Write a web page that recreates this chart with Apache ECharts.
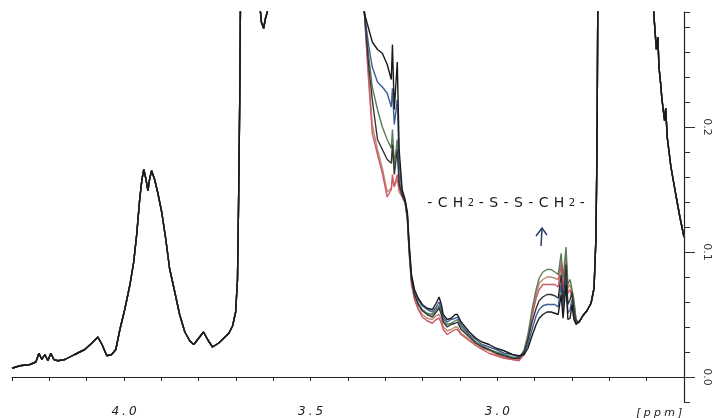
<!DOCTYPE html>
<html>
<head>
<meta charset="utf-8">
<title>NMR overlay</title>
<script src="https://cdn.jsdelivr.net/npm/echarts@6/dist/echarts.min.js"></script>
<style>
  html, body { margin: 0; padding: 0; background: #fff; }
  #main { width: 716px; height: 418px; }
</style>
</head>
<body>
<div id="main"></div>
<script>
// chemical shift (ppm) / intensity
// left part: all spectra coincide
const leftPpm = [4.300, 4.279, 4.252, 4.236, 4.228, 4.220, 4.212, 4.204, 4.196, 4.188, 4.177, 4.158, 4.132, 4.105, 4.083, 4.070, 4.059, 4.046, 4.033, 4.022, 4.011, 3.998, 3.984, 3.974, 3.966, 3.958, 3.952, 3.947, 3.941, 3.936, 3.931, 3.926, 3.918, 3.910, 3.899, 3.888, 3.878, 3.864, 3.851, 3.837, 3.824, 3.813, 3.800, 3.787, 3.776, 3.763, 3.747, 3.733, 3.719, 3.709, 3.701, 3.696, 3.693, 3.690, 3.687, 3.680, 3.660, 3.642, 3.637, 3.632, 3.626, 3.621, 3.616, 3.610, 3.590, 3.500, 3.400, 3.365, 3.356]
const leftVal = [0.007, 0.009, 0.010, 0.012, 0.019, 0.014, 0.018, 0.013, 0.019, 0.014, 0.013, 0.014, 0.018, 0.022, 0.028, 0.032, 0.026, 0.017, 0.018, 0.022, 0.038, 0.054, 0.074, 0.092, 0.114, 0.142, 0.158, 0.166, 0.158, 0.149, 0.159, 0.165, 0.158, 0.148, 0.132, 0.110, 0.087, 0.068, 0.050, 0.036, 0.029, 0.026, 0.031, 0.036, 0.030, 0.024, 0.027, 0.031, 0.035, 0.041, 0.052, 0.078, 0.142, 0.222, 0.340, 0.600, 0.600, 0.400, 0.300, 0.284, 0.279, 0.287, 0.292, 0.350, 0.600, 0.600, 0.600, 0.350, 0.291]

// middle part: spectra differ
const midPpm = [3.345, 3.335, 3.321, 3.308, 3.295, 3.284, 3.281, 3.276, 3.268, 3.263, 3.255, 3.247, 3.241, 3.236, 3.230, 3.222, 3.212, 3.201, 3.188, 3.174, 3.164, 3.156, 3.150, 3.145, 3.134, 3.124, 3.113, 3.107, 3.097, 3.075, 3.057, 3.041, 3.022, 3.003, 2.982, 2.960, 2.942, 2.928, 2.918, 2.907, 2.896, 2.888, 2.878, 2.867, 2.856, 2.846, 2.837, 2.829, 2.824, 2.816, 2.811, 2.805, 2.800, 2.795, 2.789]
const specA = [0.279, 0.268, 0.262, 0.259, 0.250, 0.238, 0.266, 0.214, 0.252, 0.182, 0.150, 0.142, 0.132, 0.106, 0.082, 0.070, 0.063, 0.058, 0.055, 0.054, 0.059, 0.064, 0.058, 0.050, 0.046, 0.047, 0.050, 0.050, 0.044, 0.036, 0.031, 0.028, 0.026, 0.023, 0.021, 0.018, 0.017, 0.018, 0.023, 0.033, 0.042, 0.047, 0.050, 0.052, 0.052, 0.051, 0.050, 0.066, 0.047, 0.074, 0.046, 0.047, 0.058, 0.046, 0.042]
const specB = [0.266, 0.248, 0.236, 0.232, 0.227, 0.216, 0.231, 0.202, 0.222, 0.170, 0.148, 0.141, 0.130, 0.103, 0.080, 0.068, 0.062, 0.057, 0.054, 0.052, 0.056, 0.060, 0.054, 0.048, 0.044, 0.046, 0.047, 0.048, 0.042, 0.034, 0.030, 0.026, 0.024, 0.022, 0.019, 0.018, 0.016, 0.019, 0.026, 0.038, 0.049, 0.054, 0.057, 0.058, 0.058, 0.058, 0.056, 0.074, 0.053, 0.082, 0.051, 0.054, 0.062, 0.049, 0.043]
const specC = [0.258, 0.232, 0.214, 0.200, 0.190, 0.183, 0.198, 0.170, 0.190, 0.158, 0.146, 0.140, 0.129, 0.102, 0.078, 0.066, 0.059, 0.054, 0.051, 0.050, 0.054, 0.057, 0.052, 0.046, 0.042, 0.043, 0.045, 0.046, 0.040, 0.033, 0.028, 0.025, 0.022, 0.020, 0.018, 0.016, 0.015, 0.022, 0.034, 0.054, 0.070, 0.079, 0.084, 0.086, 0.086, 0.084, 0.082, 0.099, 0.079, 0.104, 0.074, 0.078, 0.078, 0.062, 0.046]
const specD = [0.250, 0.222, 0.190, 0.182, 0.174, 0.171, 0.186, 0.162, 0.182, 0.154, 0.145, 0.140, 0.128, 0.101, 0.078, 0.066, 0.058, 0.053, 0.050, 0.048, 0.052, 0.055, 0.050, 0.044, 0.040, 0.042, 0.043, 0.044, 0.038, 0.032, 0.027, 0.024, 0.022, 0.019, 0.017, 0.015, 0.015, 0.020, 0.030, 0.044, 0.055, 0.061, 0.064, 0.066, 0.066, 0.065, 0.063, 0.082, 0.061, 0.090, 0.058, 0.062, 0.068, 0.054, 0.044]
const specE = [0.238, 0.195, 0.178, 0.163, 0.144, 0.150, 0.162, 0.152, 0.162, 0.150, 0.145, 0.139, 0.126, 0.098, 0.074, 0.062, 0.054, 0.048, 0.045, 0.043, 0.046, 0.047, 0.043, 0.038, 0.034, 0.036, 0.038, 0.038, 0.034, 0.029, 0.025, 0.022, 0.019, 0.017, 0.015, 0.014, 0.013, 0.018, 0.031, 0.049, 0.063, 0.070, 0.074, 0.074, 0.074, 0.074, 0.072, 0.090, 0.070, 0.095, 0.067, 0.070, 0.071, 0.058, 0.044]
const specF = [0.242, 0.202, 0.182, 0.167, 0.148, 0.151, 0.158, 0.153, 0.158, 0.148, 0.144, 0.139, 0.126, 0.099, 0.076, 0.063, 0.055, 0.050, 0.047, 0.046, 0.049, 0.050, 0.046, 0.040, 0.037, 0.038, 0.040, 0.040, 0.035, 0.030, 0.026, 0.023, 0.021, 0.018, 0.016, 0.014, 0.014, 0.020, 0.033, 0.051, 0.066, 0.075, 0.078, 0.080, 0.080, 0.079, 0.078, 0.094, 0.075, 0.098, 0.071, 0.074, 0.074, 0.060, 0.045]

// right part: coincide again
const rightPpm = [2.781, 2.771, 2.760, 2.749, 2.741, 2.736, 2.733, 2.730, 2.720, 2.650, 2.590, 2.581, 2.574, 2.570, 2.567, 2.563, 2.559, 2.552, 2.549, 2.545, 2.535, 2.522, 2.511, 2.500]
const rightVal = [0.044, 0.049, 0.053, 0.059, 0.071, 0.110, 0.182, 0.350, 0.600, 0.600, 0.400, 0.291, 0.262, 0.272, 0.248, 0.236, 0.222, 0.205, 0.215, 0.192, 0.168, 0.146, 0.128, 0.112]

const xLabels = [4.0, 3.5, 3.0]
const yLabels = [0.0, 0.1, 0.2]

// drawn bottom -> top
const traces = [
  { name: 'F', color: '#b98d70', vals: specF },
  { name: 'E', color: '#d05868', vals: specE },
  { name: 'C', color: '#5a7c55', vals: specC },
  { name: 'B', color: '#3e5d98', vals: specB },
  { name: 'D', color: '#333333', vals: specD },
  { name: 'A', color: '#1a1a1a', vals: specA }
]

function buildLine(vals) {
  const left = leftPpm.map((p, i) => [p, leftVal[i]])
  const mid = midPpm.map((p, i) => [p, vals[i]])
  const right = rightPpm.map((p, i) => [p, rightVal[i]])
  return left.concat(mid, right)
}

function spaced(str, style) {
  return str.split('').map(ch => '{' + style + '|' + ch + '}').join('')
}

const chemText =
  spaced('-CH', 'c') + spaced('2', 's') + spaced('-S-S-CH', 'c') + spaced('2', 's') + spaced('-', 'c')

const chart = echarts.init(document.getElementById('main'))

const option = {
  backgroundColor: '#ffffff',
  animation: false,
  grid: { left: 12, right: 32, top: 12, bottom: 16 },
  xAxis: {
    type: 'value',
    min: 2.5,
    max: 4.3,
    interval: 0.1,
    inverse: true,
    splitLine: { show: false },
    axisLine: { lineStyle: { color: '#222', width: 1.2 } },
    axisTick: { length: 4, lineStyle: { color: '#222' } },
    axisLabel: {
      customValues: xLabels,
      margin: 4,
      formatter: v => spaced(v.toFixed(1), 't'),
      rich: {
        t: { fontFamily: 'DejaVu Sans', fontStyle: 'italic', fontSize: 12, color: '#222', padding: [0, 1.5] }
      }
    }
  },
  yAxis: [
    {
      type: 'value',
      position: 'right',
      min: -0.02,
      max: 0.292,
      interval: 0.02,
      splitLine: { show: false },
      axisLine: { show: true, lineStyle: { color: '#222', width: 1.2 } },
      axisTick: { show: true, length: 6, lineStyle: { color: '#333' } },
      axisLabel: { show: false }
    },
    {
      type: 'value',
      position: 'right',
      min: -0.02,
      max: 0.292,
      splitLine: { show: false },
      axisLine: { show: false },
      axisTick: { show: true, customValues: yLabels, length: 11, lineStyle: { color: '#333' } },
      axisLabel: {
        customValues: yLabels,
        rotate: -90,
        margin: 17,
        fontFamily: 'DejaVu Sans',
        fontSize: 11,
        color: '#333',
        formatter: v => v.toFixed(1)
      }
    }
  ],
  series: traces.map(t => ({
    name: t.name,
    type: 'line',
    yAxisIndex: 0,
    showSymbol: false,
    symbol: 'none',
    clip: true,
    lineStyle: { color: t.color, width: 1.4 },
    data: buildLine(t.vals)
  })),
  graphic: [
    {
      type: 'text',
      x: 506,
      y: 203,
      style: {
        text: chemText,
        align: 'center',
        verticalAlign: 'middle',
        rich: {
          c: { fontFamily: 'DejaVu Sans', fontSize: 14, fill: '#1a1a1a', padding: [0, 2.7] },
          s: { fontFamily: 'DejaVu Sans', fontSize: 10, fill: '#1a1a1a', padding: [0, 1.8] }
        }
      }
    },
    {
      type: 'polyline',
      shape: { points: [[541, 246], [542, 229]] },
      style: { stroke: '#2b3d66', lineWidth: 1.5, fill: null }
    },
    {
      type: 'polyline',
      shape: { points: [[536, 236], [542, 228], [547, 235]] },
      style: { stroke: '#2b3d66', lineWidth: 1.5, fill: null }
    },
    {
      type: 'text',
      x: 684,
      y: 413,
      style: {
        text: spaced('[ppm]', 'p'),
        align: 'right',
        verticalAlign: 'middle',
        rich: {
          p: { fontFamily: 'DejaVu Sans', fontStyle: 'italic', fontSize: 11, fill: '#222', padding: [0, 1.6] }
        }
      }
    }
  ]
}

chart.setOption(option)

window.addEventListener('resize', () => {
  chart.resize()
})
</script>
</body>
</html>
